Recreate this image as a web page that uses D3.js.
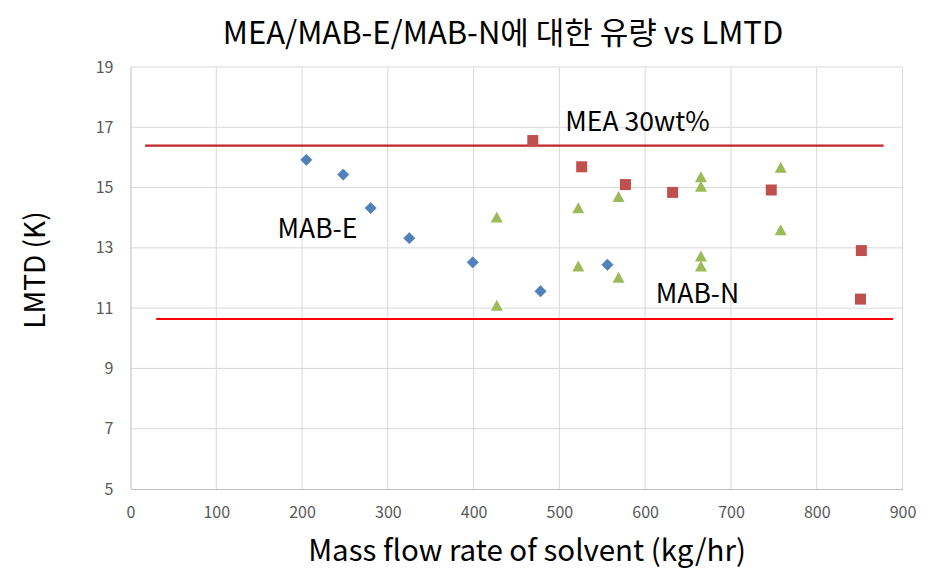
<!DOCTYPE html>
<html><head><meta charset="utf-8">
<script src="https://cdn.jsdelivr.net/npm/d3@7"></script>
<style>body{margin:0;background:#fff}svg{display:block}</style>
</head><body>
<svg id="c" width="937" height="584"></svg>
<script>
const titleText = "MEA/MAB-E/MAB-N에 대한 유량 vs LMTD";
const xLabel = "Mass flow rate of solvent (kg/hr)";
const yLabel = "LMTD (K)";
const xTicks = [0,100,200,300,400,500,600,700,800,900];
const yTicks = [5,7,9,11,13,15,17,19];

const mabE_x = [205,248,280,325,399,478,556];
const mabE_y = [15.92,15.43,14.32,13.32,12.52,11.56,12.44];

const mea_x = [469,526,577,632,747,852,851];
const mea_y = [16.56,15.69,15.10,14.84,14.92,12.91,11.30];

const mabN_x = [427,522,569,665,665,758,758,665,665,522,569,427];
const mabN_y = [14.01,14.31,14.69,15.34,15.03,15.66,13.58,12.71,12.38,12.38,12.01,11.08];

const upperLine_x = [17,878];
const upperLine_y = [16.39,16.39];
const lowerLine_x = [30,889];
const lowerLine_y = [10.64,10.64];

const annotations = [
  {text:"MEA 30wt%", x:591, y:16.88},
  {text:"MAB-E", x:218, y:13.33},
  {text:"MAB-N", x:661, y:11.17}
];

const svg = d3.select("#c");
const font = "'Noto Sans CJK KR','Noto Sans',sans-serif";
const x = d3.scaleLinear().domain([0,900]).range([130.5,902.5]);
const y = d3.scaleLinear().domain([5,19]).range([489,67]);

// gridlines
svg.append("g").selectAll("line.v").data(xTicks.slice(1)).join("line")
  .attr("x1",d=>x(d)).attr("x2",d=>x(d)).attr("y1",y(19)).attr("y2",y(5))
  .attr("stroke","#d9d9d9").attr("stroke-width",1);
svg.append("g").selectAll("line.h").data(yTicks.slice(1)).join("line")
  .attr("x1",x(0)).attr("x2",x(900)).attr("y1",d=>y(d)).attr("y2",d=>y(d))
  .attr("stroke","#d9d9d9").attr("stroke-width",1);

// axes
const xAxis = d3.axisBottom(x).tickValues(xTicks).tickSize(0).tickPadding(18);
const gx = svg.append("g").attr("transform",`translate(0,${y(5)})`).call(xAxis);
gx.select(".domain").attr("stroke","#bfbfbf");
gx.selectAll("text").attr("font-family",font).attr("font-size",16).attr("fill","#595959");

const yAxis = d3.axisLeft(y).tickValues(yTicks).tickSize(0).tickPadding(17);
const gy = svg.append("g").attr("transform",`translate(${x(0)},0)`).call(yAxis);
gy.select(".domain").attr("stroke","#bfbfbf");
gy.selectAll("text").attr("font-family",font).attr("font-size",16).attr("fill","#595959");

// reference lines
const line = d3.line().x(d=>x(d[0])).y(d=>y(d[1]));
svg.append("path").attr("d",line(d3.zip(upperLine_x,upperLine_y)))
  .attr("stroke","#C0262A").attr("stroke-width",2.2).attr("fill","none");
svg.append("path").attr("d",line(d3.zip(lowerLine_x,lowerLine_y)))
  .attr("stroke","#FF0000").attr("stroke-width",2).attr("fill","none");

// markers
svg.append("g").selectAll("path").data(d3.zip(mabE_x,mabE_y)).join("path")
  .attr("d",d3.symbol(d3.symbolSquare,64)())
  .attr("transform",d=>`translate(${x(d[0])},${y(d[1])}) rotate(45)`)
  .attr("fill","#4F81BD").attr("stroke","#3E6FA8").attr("stroke-width",0.5);

svg.append("g").selectAll("rect").data(d3.zip(mea_x,mea_y)).join("rect")
  .attr("x",d=>x(d[0])-5.5).attr("y",d=>y(d[1])-5.5).attr("width",11).attr("height",11)
  .attr("fill","#C0504D");

svg.append("g").selectAll("path").data(d3.zip(mabN_x,mabN_y)).join("path")
  .attr("d",d=>{const cx=x(d[0]), cy=y(d[1]); return `M${cx},${cy-6}L${cx+6},${cy+5}L${cx-6},${cy+5}Z`;})
  .attr("fill","#9BBB59");

// annotations
svg.append("g").selectAll("text").data(annotations).join("text")
  .attr("x",d=>x(d.x)).attr("y",d=>y(d.y)).attr("text-anchor","middle")
  .attr("font-family",font).attr("font-size",26.5).attr("fill","#000")
  .text(d=>d.text);

// titles
svg.append("text").attr("x",503).attr("y",44).attr("text-anchor","middle")
  .attr("font-family",font).attr("font-size",31).attr("fill","#000").text(titleText);
svg.append("text").attr("x",527).attr("y",561).attr("text-anchor","middle")
  .attr("font-family",font).attr("font-size",29.5).attr("fill","#000").text(xLabel);
svg.append("text").attr("transform","translate(45,270) rotate(-90)").attr("text-anchor","middle")
  .attr("font-family",font).attr("font-size",28).attr("fill","#000").text(yLabel);
</script>
</body></html>
